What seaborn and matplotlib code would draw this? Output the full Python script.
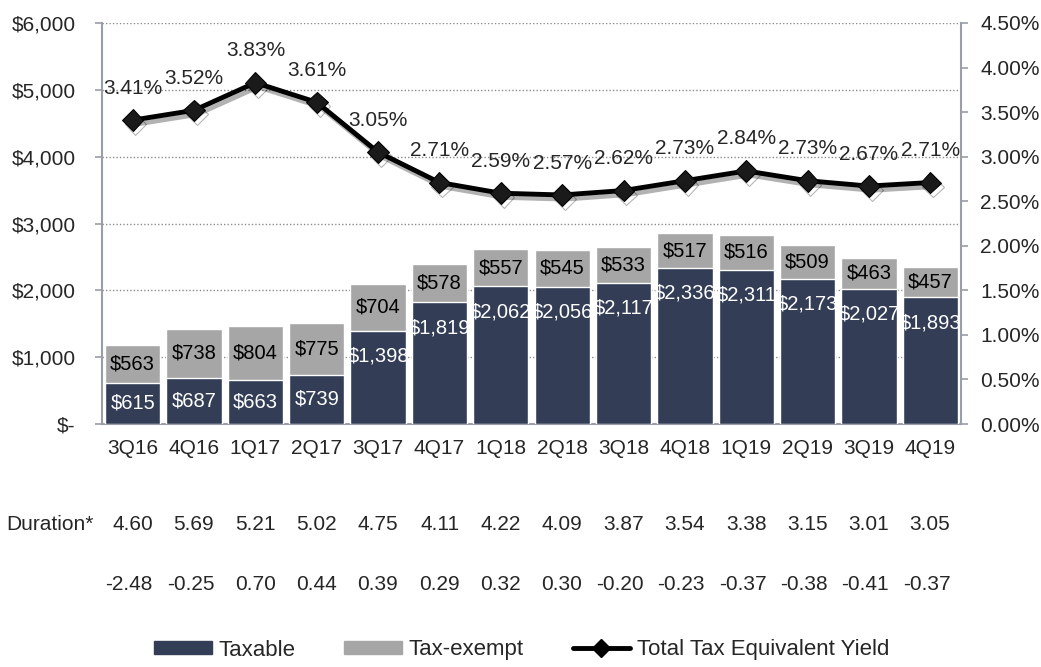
import matplotlib
matplotlib.use("Agg")
import matplotlib.pyplot as plt
import matplotlib.patheffects as pe
import matplotlib.transforms as mt
from matplotlib.lines import Line2D
from matplotlib.patches import Patch
from matplotlib.ticker import FuncFormatter, MultipleLocator
import numpy as np
import seaborn as sns

quarters = ["3Q16", "4Q16", "1Q17", "2Q17", "3Q17", "4Q17", "1Q18",
            "2Q18", "3Q18", "4Q18", "1Q19", "2Q19", "3Q19", "4Q19"]
taxable = [615, 687, 663, 739, 1398, 1819, 2062, 2056, 2117, 2336, 2311, 2173, 2027, 1893]
tax_exempt = [563, 738, 804, 775, 704, 578, 557, 545, 533, 517, 516, 509, 463, 457]
yield_pct = [3.41, 3.52, 3.83, 3.61, 3.05, 2.71, 2.59, 2.57, 2.62, 2.73, 2.84, 2.73, 2.67, 2.71]
duration = ["4.60", "5.69", "5.21", "5.02", "4.75", "4.11", "4.22",
            "4.09", "3.87", "3.54", "3.38", "3.15", "3.01", "3.05"]
row2 = ["-2.48", "-0.25", "0.70", "0.44", "0.39", "0.29", "0.32",
        "0.30", "-0.20", "-0.23", "-0.37", "-0.38", "-0.41", "-0.37"]

NAVY = "#333e56"
GREY = "#a6a6a6"
AXC = "#9a9ea6"

sns.set_style("white")
plt.rcParams["font.family"] = ["Liberation Sans", "DejaVu Sans"]

fig = plt.figure(figsize=(10.41, 6.67), dpi=100)
ax = fig.add_axes([102 / 1041, 1 - 424 / 667, 859 / 1041, 401 / 667])

total = [a + b for a, b in zip(taxable, tax_exempt)]
x = np.arange(len(quarters))

sns.barplot(x=quarters, y=total, color=GREY, saturation=1, width=0.9, ax=ax, zorder=2)
sns.barplot(x=quarters, y=taxable, color=NAVY, saturation=1, width=0.9, ax=ax, zorder=3)

for i, (t, e) in enumerate(zip(taxable, tax_exempt)):
    ty = max(t / 2, t - 380)
    ax.text(i, ty, f"${t:,}", color="white", ha="center", va="center", fontsize=14.5, zorder=5)
    ax.text(i, t + e / 2, f"${e:,}", color="black", ha="center", va="center", fontsize=14.5, zorder=5)

ax.set_ylim(0, 6000)
ax.set_xlim(-0.5, len(quarters) - 0.5)
ax.yaxis.set_major_locator(MultipleLocator(1000))
ax.yaxis.set_major_formatter(FuncFormatter(lambda v, p: "$-" if v == 0 else f"${v:,.0f}"))
for g in range(1000, 6001, 1000):
    ax.axhline(g, color="#8c8c8c", lw=1, ls=(0, (1, 1.5)), zorder=1)

ax.set_xticks(x)
ax.set_xticks(np.arange(-0.5, len(quarters)), minor=True)
ax.tick_params(axis="x", which="major", length=0, pad=11, labelsize=15)
ax.tick_params(axis="x", which="minor", length=5, color=AXC, width=1.2)
ax.tick_params(axis="y", length=5, color=AXC, width=1.2, pad=14, labelsize=15, left=True)
ax.set_xlabel("")
ax.set_ylabel("")
for s in ["top", "right"]:
    ax.spines[s].set_visible(False)
for s in ["left", "bottom"]:
    ax.spines[s].set_color(AXC)
    ax.spines[s].set_linewidth(1.5)

# yield line on the right axis
ax2 = ax.twinx()
sns.lineplot(x=x, y=yield_pct, ax=ax2, color="black", lw=3.5, marker="D",
             markersize=11, markerfacecolor="#1a1a1a", markeredgecolor="black", zorder=6,
             path_effects=[pe.SimpleLineShadow(offset=(2, -3), alpha=0.3), pe.Normal()],
             legend=False)
for i, v in enumerate(yield_pct):
    ax2.annotate(f"{v:.2f}%", (i, v), xytext=(0, 23), textcoords="offset points",
                 ha="center", va="center", fontsize=15)
ax2.set_ylim(0, 4.5)
ax2.yaxis.set_major_locator(MultipleLocator(0.5))
ax2.yaxis.set_major_formatter(FuncFormatter(lambda v, p: f"{v:.2f}%"))
ax2.tick_params(axis="y", length=5, color=AXC, width=1.2, pad=9, labelsize=15, right=True)
ax2.set_ylabel("")
for s in ["top", "left", "bottom"]:
    ax2.spines[s].set_visible(False)
ax2.spines["right"].set_color(AXC)
ax2.spines["right"].set_linewidth(1.5)

# table rows under the chart
blend = mt.blended_transform_factory(ax.transData, fig.transFigure)
for i in range(len(quarters)):
    ax.annotate(duration[i], (i, 1 - 524 / 667), xycoords=blend, xytext=(14.5, 0),
                textcoords="offset points", ha="right", va="center", fontsize=15,
                annotation_clip=False)
    ax.annotate(row2[i], (i, 1 - 584 / 667), xycoords=blend, xytext=(14.5, 0),
                textcoords="offset points", ha="right", va="center", fontsize=15,
                annotation_clip=False)
fig.text(94 / 1041, 1 - 524 / 667, "Duration*", ha="right", va="center", fontsize=15)

handles = [Patch(color=NAVY, label="Taxable"),
           Patch(color=GREY, label="Tax-exempt"),
           Line2D([], [], color="black", lw=3.5, marker="D", markersize=9,
                  label="Total Tax Equivalent Yield")]
fig.legend(handles=handles, loc="center", bbox_to_anchor=(0.501, 1 - 650 / 667),
           ncol=3, frameon=False, fontsize=16, handlelength=2.6, handleheight=0.5,
           columnspacing=2.2, handletextpad=0.3)

fig.savefig("out.png", dpi=100)
